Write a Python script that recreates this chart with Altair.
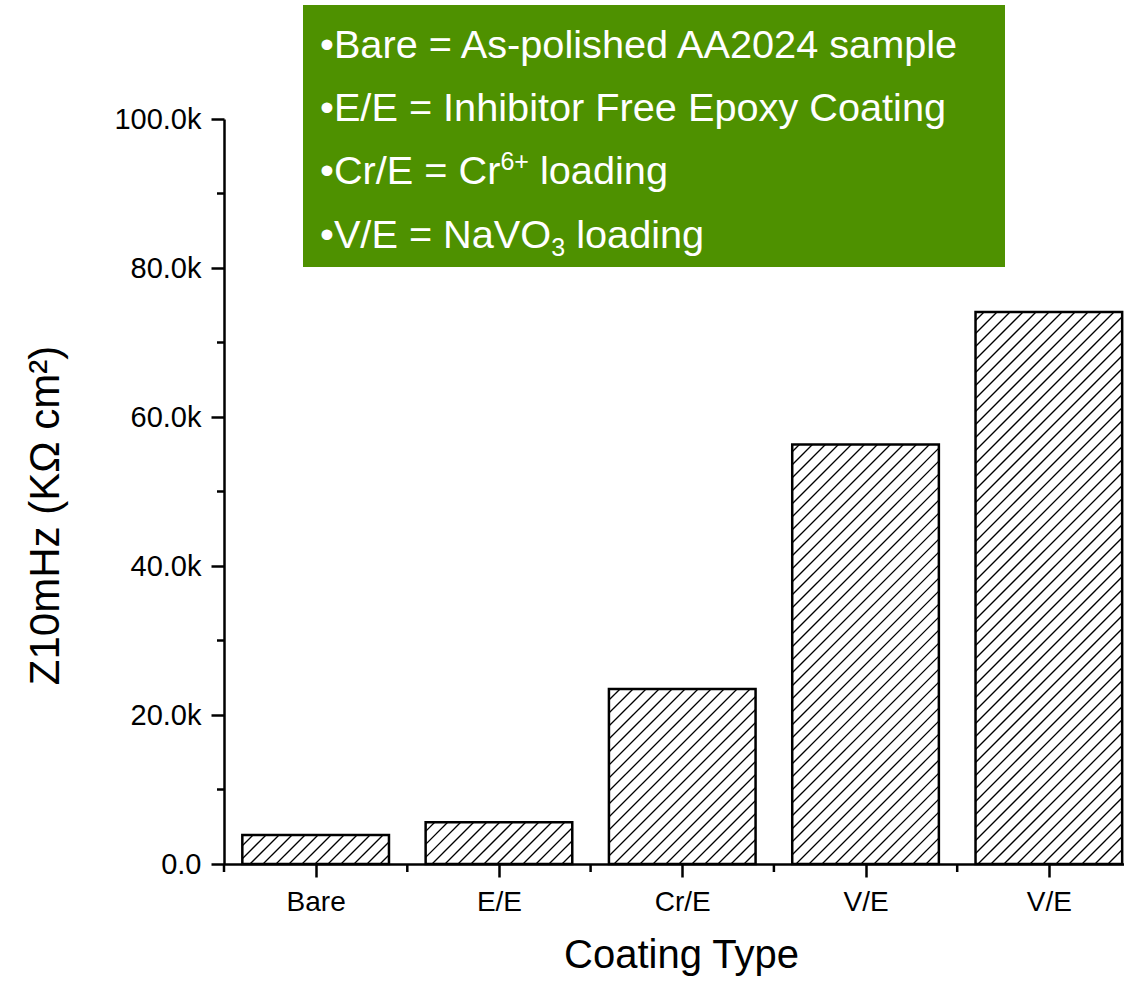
import altair as alt
import pandas as pd
import math

# ---------------- data ----------------
categories = ["Bare", "E/E", "Cr/E", "V/E", "V/E"]
values = [3900, 5600, 23500, 56300, 74100]
y_ticks = [0, 20000, 40000, 60000, 80000, 100000]
y_minor = [10000, 30000, 50000, 70000, 90000]
x_minor = [0.5, 1.5, 2.5, 3.5, 4.5]
legend_lines = [
    "\u2022Bare = As-polished AA2024 sample",
    "\u2022E/E = Inhibitor Free Epoxy Coating",
    "\u2022Cr/E = Cr",
    "\u2022V/E = NaVO",
]
sup_text = "6+"
sub_text = "3"
tail_text = "loading"

# ---------------- geometry ----------------
W, H = 900, 745
XMIN, XMAX = 0.5, 5.41
YMAX = 100000
sx = W / (XMAX - XMIN)
sy = H / YMAX
HALF = 0.4
SPACING = 13.0

pos = list(range(1, len(categories) + 1))
bars = pd.DataFrame({
    "pos": pos,
    "left": [p - HALF for p in pos],
    "right": [p + HALF for p in pos],
    "value": values,
    "base": [0] * len(pos),
})

# hatch segments computed from the bar rectangles (45 degree lines, "/" direction)
rows = []
for p, v in zip(pos, values):
    L = (p - HALF - XMIN) * sx
    R = (p + HALF - XMIN) * sx
    Ht = v * sy
    c = math.floor((L - Ht) / SPACING) * SPACING
    while c <= R:
        x0 = max(L, c)
        x1 = min(R, c + Ht)
        if x1 > x0 + 0.5:
            rows.append({
                "left": XMIN + x0 / sx,
                "right": XMIN + x1 / sx,
                "value": (x0 - c) / sy,
                "base": (x1 - c) / sy,
            })
        c += SPACING
hatch = pd.DataFrame(rows)

xscale = alt.Scale(domain=[XMIN, XMAX], nice=False, zero=False)
yscale = alt.Scale(domain=[0, YMAX], nice=False)

label_arr = "[" + ",".join("'" + c + "'" for c in categories) + "]"

FONT = "Liberation Sans"

x_axis = alt.Axis(
    values=pos,
    labelExpr=label_arr + "[datum.value - 1]",
    title="Coating Type",
    grid=False,
    domainColor="black", domainWidth=2.5,
    tickColor="black", tickWidth=2.5, tickSize=13,
    labelFont=FONT, labelFontSize=28, labelColor="black",
    labelBaseline="alphabetic", labelPadding=33,
    titleFont=FONT, titleFontSize=40, titleFontWeight="normal", titleColor="black",
    titleX=457, titleY=103, titleBaseline="alphabetic", titleAlign="center",
)
y_axis = alt.Axis(
    values=y_ticks,
    labelExpr="datum.value == 0 ? '0.0' : format(datum.value / 1000, '.1f') + 'k'",
    title="Z10mHz (K\u03a9 cm\u00b2)",
    grid=False,
    domainColor="black", domainWidth=2.5,
    tickColor="black", tickWidth=2.5, tickSize=13,
    labelFont=FONT, labelFontSize=29, labelColor="black", labelPadding=10,
    titleFont=FONT, titleFontSize=42, titleFontWeight="normal", titleColor="black",
    titleX=-179, titleY=396, titleAngle=-90, titleBaseline="middle", titleAlign="center",
)

X = alt.X("left:Q", scale=xscale, axis=x_axis)
Y = alt.Y("value:Q", scale=yscale, axis=y_axis)

base_bars = alt.Chart(bars).mark_rect(fill="white").encode(
    x=X, x2="right:Q", y=Y, y2="base:Q",
)

hatch_layer = alt.Chart(hatch).mark_rule(color="black", strokeWidth=1.3).encode(
    x=X, x2="right:Q", y=Y, y2="base:Q",
)

outline = alt.Chart(bars).mark_rect(filled=False, stroke="black", strokeWidth=2.5).encode(
    x=X, x2="right:Q", y=Y, y2="base:Q",
)

ymin_df = pd.DataFrame({"value": y_minor})
y_minor_layer = alt.Chart(ymin_df).mark_rule(color="black", strokeWidth=2.5).encode(
    y=Y, x=alt.value(-7), x2=alt.value(0),
)
xmin_df = pd.DataFrame({"left": x_minor})
x_minor_layer = alt.Chart(xmin_df).mark_rule(color="black", strokeWidth=2.5).encode(
    x=X, y=alt.value(H), y2=alt.value(H + 8),
)

# ---------------- legend box ----------------
one = pd.DataFrame({"a": [0]})
box = alt.Chart(one).mark_rect(color="#4e9100").encode(
    x=alt.value(79), x2=alt.value(781), y=alt.value(-114), y2=alt.value(148),
)

FS = 39.7
FS_SMALL = 25
LX = 96
baselines = [-61, 2, 65, 129]


def text_at(txt, x, y, size):
    return alt.Chart(one).mark_text(
        text=txt, font=FONT, fontSize=size, color="white",
        align="left", baseline="alphabetic",
    ).encode(x=alt.value(x), y=alt.value(y))


# Arial / Liberation Sans advance widths (per 1000 em) to place super/subscripts
AW = {"\u2022": 350, "C": 722, "r": 333, "/": 278, "E": 667, " ": 278, "=": 584,
      "V": 667, "N": 722, "a": 556, "O": 778, "6": 556, "+": 584, "3": 556}


def width(s, size):
    return sum(AW[ch] for ch in s) * size / 1000.0


texts = []
for i, line in enumerate(legend_lines):
    texts.append(text_at(line, LX, baselines[i], FS))
# superscript on line 3
x_sup = LX + width(legend_lines[2], FS)
texts.append(text_at(sup_text, x_sup, baselines[2] - 14, FS_SMALL))
texts.append(text_at(tail_text, x_sup + width(sup_text, FS_SMALL) + width(" ", FS), baselines[2], FS))
# subscript on line 4
x_sub = LX + width(legend_lines[3], FS)
texts.append(text_at(sub_text, x_sub, baselines[3] + 8, FS_SMALL))
texts.append(text_at(tail_text, x_sub + width(sub_text, FS_SMALL) + width(" ", FS), baselines[3], FS))

chart = alt.layer(
    base_bars, hatch_layer, outline, y_minor_layer, x_minor_layer, box, *texts
).properties(
    width=W, height=H,
    autosize=alt.AutoSizeParams(type="none"),
    padding={"left": 224, "top": 119, "right": 0, "bottom": 117},
    background="white",
).configure_view(strokeWidth=0)

chart.save("out.html", embed_options={"renderer": "svg", "actions": False})
